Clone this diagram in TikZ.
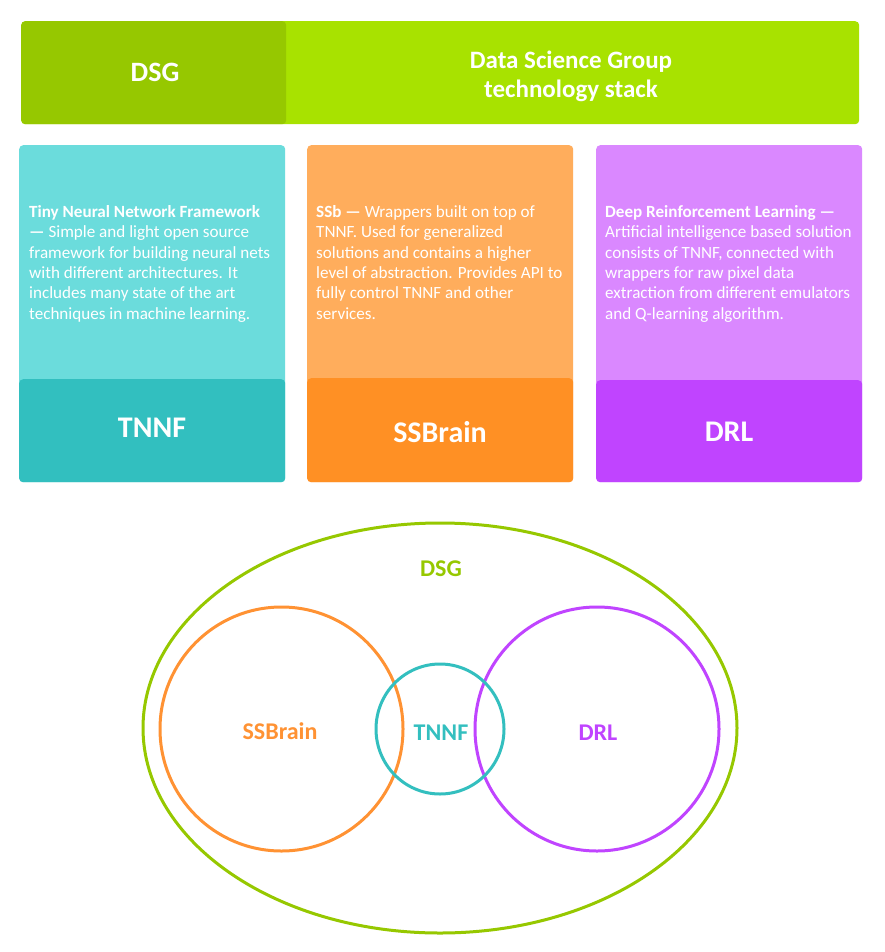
\documentclass[tikz,border=0pt]{standalone}
\usepackage{fontspec}
\setmainfont{Carlito}
\usetikzlibrary{shapes.geometric}
\definecolor{limeL}{HTML}{A8E200}
\definecolor{limeD}{HTML}{96C800}
\definecolor{tealL}{HTML}{6BDCDC}
\definecolor{tealD}{HTML}{32BFBF}
\definecolor{orgL}{HTML}{FFAD5C}
\definecolor{orgD}{HTML}{FF9024}
\definecolor{purL}{HTML}{DA88FF}
\definecolor{purD}{HTML}{C044FF}
\definecolor{vgreen}{HTML}{96C800}
\definecolor{vorange}{HTML}{FF9233}
\definecolor{vteal}{HTML}{33BFBF}
\definecolor{vpurple}{HTML}{C044FF}
\begin{document}
\begin{tikzpicture}[x=1pt,y=-1pt,
  panel/.style={rectangle, rounded corners=4pt, inner sep=0pt, anchor=north west, draw=none},
  desc/.style={anchor=north west, inner sep=0pt, align=left, text=white, font=\fontsize{17.1}{20.4}\selectfont},
  title/.style={text=white, font=\bfseries\fontsize{30}{34}\selectfont, inner sep=0pt},
  venn/.style={ellipse, inner sep=0pt, line width=3pt},
  vlabel/.style={font=\bfseries\fontsize{24}{28}\selectfont, inner sep=0pt}]
\useasboundingbox[fill=white] (0,0) rectangle (884,952);
% top bar
\node[panel, fill=limeL, minimum width=838pt, minimum height=103pt] (bar) at (21,21) {};
\node[panel, fill=limeD, minimum width=265pt, minimum height=103pt] (bardark) at (21,21) {};
\node[text=white, font=\bfseries\fontsize{28}{32}\selectfont, inner sep=0pt] (dsgtop) at (155,72) {DSG};
\node[text=white, font=\bfseries\fontsize{25}{29}\selectfont, align=center, inner sep=0pt] (stack) at (571,76) {Data Science Group\\technology stack};
% columns
\node[panel, fill=tealL, minimum width=266pt, minimum height=337pt] (c1) at (19,145) {};
\node[panel, fill=orgL, minimum width=266pt, minimum height=337pt] (c2) at (307,145) {};
\node[panel, fill=purL, minimum width=266pt, minimum height=337pt] (c3) at (596,145) {};
\node[panel, fill=tealD, minimum width=266pt, minimum height=103pt] (d1) at (19,379) {};
\node[panel, fill=orgD, minimum width=266pt, minimum height=104pt] (d2) at (307,378) {};
\node[panel, fill=purD, minimum width=266pt, minimum height=102pt] (d3) at (596,380) {};
\node[title] (t1) at (152,428) {TNNF};
\node[title] (t2) at (440,432) {SSBrain};
\node[title] (t3) at (729,432) {DRL};
\node[desc] (x1) at (29,205) {\textbf{Tiny Neural Network Framework}\\\textbf{—} Simple and light open source\\framework for building neural nets\\with different architectures. It\\includes many state of the art\\techniques in machine learning.};
\node[desc] (x2) at (316,205) {\textbf{SSb —} Wrappers built on top of\\TNNF. Used for generalized\\solutions and contains a higher\\level of abstraction. Provides API to\\fully control TNNF and other\\services.};
\node[desc] (x3) at (605,205) {\textbf{Deep Reinforcement Learning —}\\Artificial intelligence based solution\\consists of TNNF, connected with\\wrappers for raw pixel data\\extraction from different emulators\\and Q-learning algorithm.};
% venn
\node[venn, draw=vgreen, minimum width=594pt, minimum height=410pt] (vdsg) at (440,728) {};
\node[venn, draw=vorange, minimum width=243pt, minimum height=244pt] (vss) at (281.5,729) {};
\node[venn, draw=vpurple, minimum width=244pt, minimum height=244pt] (vdrl) at (597,729) {};
\node[venn, draw=vteal, minimum width=128pt, minimum height=130pt] (vtn) at (440,729) {};
\node[vlabel, text=vgreen] (ldsg) at (441,569) {DSG};
\node[vlabel, text=vorange] (lss) at (280,731) {SSBrain};
\node[vlabel, text=vteal] (ltn) at (441,733) {TNNF};
\node[vlabel, text=vpurple] (ldrl) at (598,733) {DRL};
\end{tikzpicture}
\end{document}
